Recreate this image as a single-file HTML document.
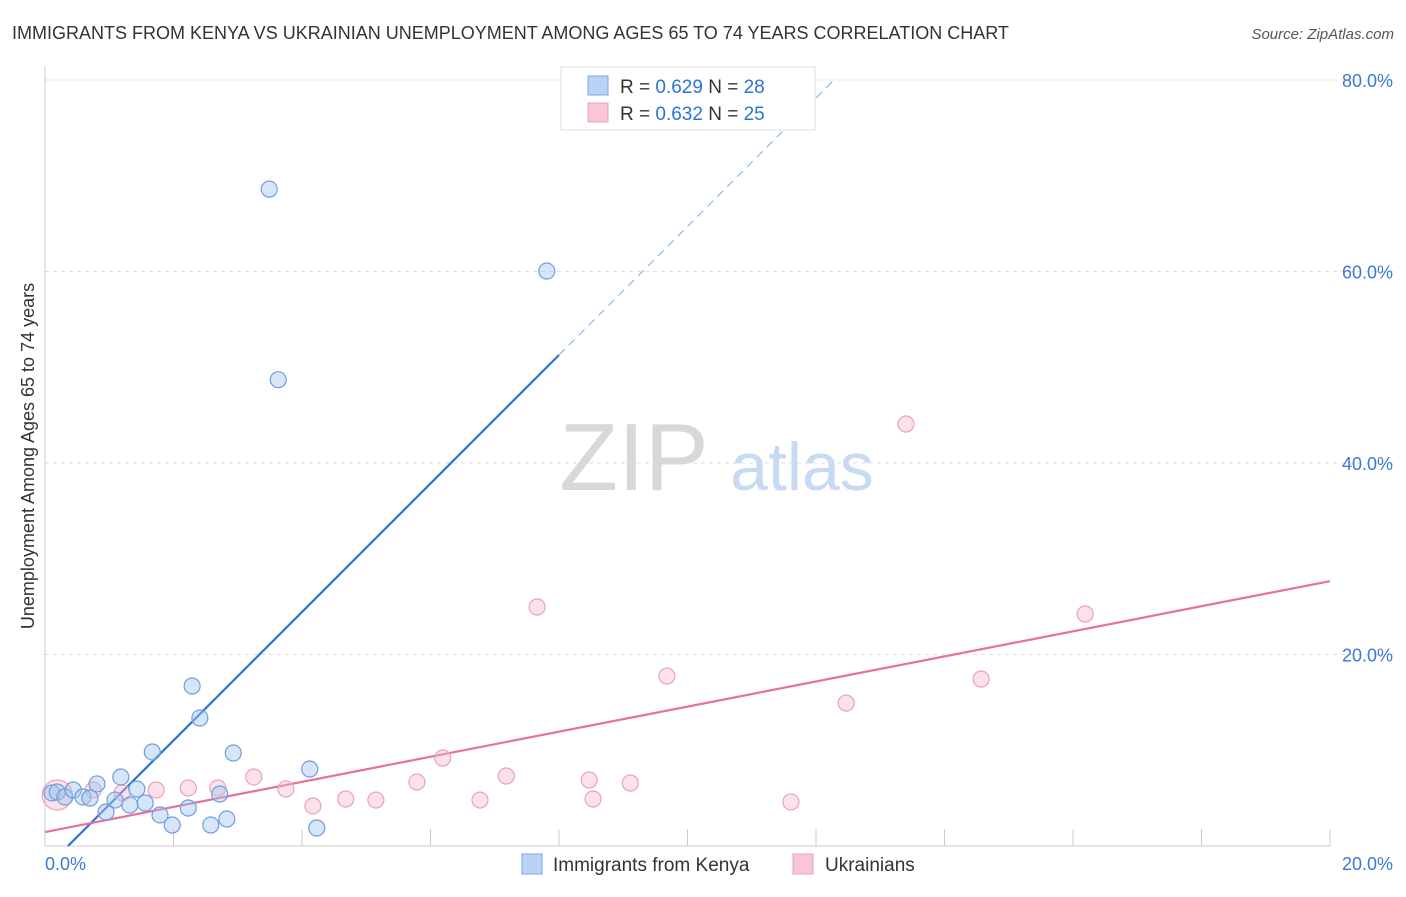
<!DOCTYPE html>
<html><head><meta charset="utf-8"><style>
body{margin:0;background:#fff;font-family:"Liberation Sans",sans-serif;}
svg text{font-family:"Liberation Sans",sans-serif;}
</style></head><body>
<svg id="chart" width="1406" height="892" xmlns="http://www.w3.org/2000/svg">
<text x="12" y="39" font-size="18" fill="#333">IMMIGRANTS FROM KENYA VS UKRAINIAN UNEMPLOYMENT AMONG AGES 65 TO 74 YEARS CORRELATION CHART</text>
<text x="1394" y="39" font-size="15" fill="#555" font-style="italic" text-anchor="end">Source: ZipAtlas.com</text>
<g>
<text x="634" y="490" font-size="96" fill="#d8d8d8" font-family="Liberation Serif" text-anchor="middle">ZIP</text>
<text x="802" y="490" font-size="68" fill="#c8daf2" text-anchor="middle">atlas</text>
</g>
<g id="grid"></g>
<g id="axes"></g>
<g id="lines"></g>
<g id="points"></g>
<text transform="translate(34,456) rotate(-90)" font-size="18" fill="#333" text-anchor="middle">Unemployment Among Ages 65 to 74 years</text>
<text x="45" y="870" font-size="18" fill="#3b78d8">0.0%</text>
<text x="1393" y="870" font-size="18" fill="#3b78d8" text-anchor="end">20.0%</text>
<g>
<rect x="561" y="67" width="254" height="63" fill="#fff" stroke="#ddd"/>
<rect x="588" y="76" width="20" height="19" fill="#b9d3f5" stroke="#7aa8e0"/>
<rect x="588" y="103" width="20" height="19" fill="#f8c6d6" stroke="#eea0b8"/>
<text x="620" y="93" font-size="19" fill="#333">R = <tspan fill="#2a74d6">0.629</tspan>   N = <tspan fill="#2a74d6">28</tspan></text>
<text x="620" y="120" font-size="19" fill="#333">R = <tspan fill="#2a74d6">0.632</tspan>   N = <tspan fill="#2a74d6">25</tspan></text>
</g>
<g>
<rect x="522" y="854" width="20" height="20" fill="#b9d3f5" stroke="#7aa8e0"/>
<text x="553" y="871" font-size="19" fill="#333">Immigrants from Kenya</text>
<rect x="793" y="854" width="20" height="20" fill="#f8c6d6" stroke="#eea0b8"/>
<text x="825" y="871" font-size="19" fill="#333">Ukrainians</text>
</g>
</svg>
<script>
const kenyaX=[0.11,0.19,0.31,0.44,0.59,0.70,0.81,0.95,1.09,1.18,1.32,1.43,1.56,1.67,1.79,1.98,2.23,2.29,2.41,2.58,2.72,2.83,2.93,3.49,3.63,4.12,4.23,7.81];
const kenyaY=[5.54,5.64,5.12,5.85,5.12,5.01,6.48,3.55,4.80,7.21,4.28,5.95,4.49,9.82,3.24,2.19,3.97,16.71,13.37,2.19,5.43,2.82,9.71,68.6,48.7,8.04,1.88,60.05];
const ukrX=[0.19,0.75,1.20,1.73,2.23,2.69,3.25,3.75,4.17,4.68,5.15,5.79,6.19,6.77,7.18,7.66,8.47,8.53,9.11,9.68,11.61,12.47,13.40,14.57,16.19];
const ukrY=[5.33,5.85,5.54,5.85,6.06,6.06,7.21,5.95,4.18,4.91,4.80,6.68,9.19,4.80,7.31,24.96,6.89,4.91,6.58,17.75,4.60,14.93,44.07,17.44,24.23];
const yTicks=[20,40,60,80];
const yTickLabels=["20.0%","40.0%","60.0%","80.0%"];
const xTicks=[0,2,4,6,8,10,12,14,16,18,20];
const kenyaFit=[6.71,-2.4];
const ukrFit=[1.31,1.46];
const NS="http://www.w3.org/2000/svg";
const sx=v=>45+v*64.25, sy=v=>846-v*9.575;
function mk(tag,attrs,parent){const e=document.createElementNS(NS,tag);for(const k in attrs)e.setAttribute(k,attrs[k]);document.getElementById(parent).appendChild(e);return e;}
yTicks.forEach((t,i)=>{
 const g=mk('line',{x1:45,x2:1394,y1:sy(t),y2:sy(t),stroke:'#ddd','stroke-dasharray':'4,4'},'grid');
 
 
 const l=mk('text',{x:1393,y:sy(t)+7,'font-size':18,fill:'#3b78d8','text-anchor':'end'},'axes');
 l.textContent=yTickLabels[i];
 
 
});
const ax=mk('line',{x1:45,x2:45,y1:66,y2:846,stroke:'#ccc'},'axes');


const bx=mk('line',{x1:45,x2:1330,y1:846,y2:846,stroke:'#ccc'},'axes');


xTicks.forEach(t=>{
 const k=mk('line',{x1:sx(t),x2:sx(t),y1:829,y2:846,stroke:'#ccc'},'axes');
 
 
});
// kenya trend
const kx0=-kenyaFit[1]/kenyaFit[0], kx1=8.0, kx2=(80-kenyaFit[1])/kenyaFit[0];
const kl=mk('line',{x1:sx(kx0),y1:sy(0),x2:sx(kx1),y2:sy(kenyaFit[0]*kx1+kenyaFit[1]),stroke:'#2a74d6','stroke-width':2.2},'lines');


const kd=mk('line',{x1:sx(kx1),y1:sy(kenyaFit[0]*kx1+kenyaFit[1]),x2:sx(kx2),y2:sy(80),stroke:'#8fb5e8','stroke-width':1.2,'stroke-dasharray':'8,6'},'lines');


const ul=mk('line',{x1:sx(0),y1:sy(ukrFit[1]),x2:sx(20),y2:sy(ukrFit[0]*20+ukrFit[1]),stroke:'#e8709a','stroke-width':2.2},'lines');


ukrX.forEach((x,i)=>{
 const c=mk('circle',{cx:sx(x),cy:sy(ukrY[i]),r:i===0?15:8,fill:'rgba(246,182,202,0.4)',stroke:'#eea0b8','stroke-width':1.2},'points');
 
 
});
kenyaX.forEach((x,i)=>{
 const c=mk('circle',{cx:sx(x),cy:sy(kenyaY[i]),r:8,fill:'rgba(165,198,240,0.45)',stroke:'#6f9fdc','stroke-width':1.2},'points');
 
 
});
</script>
</body></html>
